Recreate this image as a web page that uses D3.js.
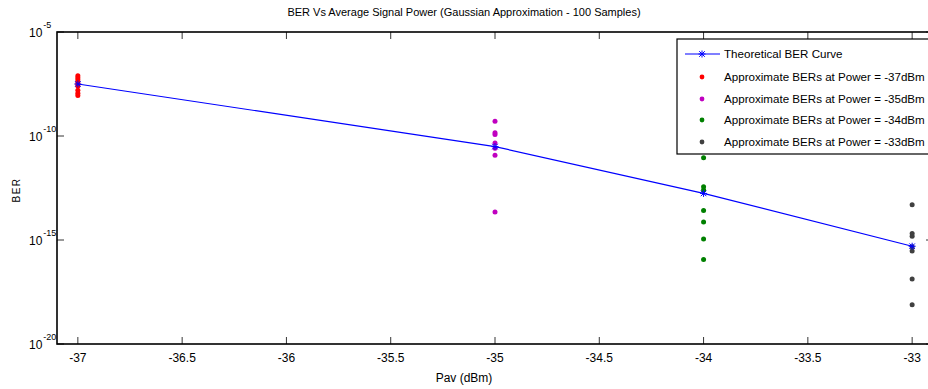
<!DOCTYPE html>
<html>
<head>
<meta charset="utf-8">
<script src="https://cdn.jsdelivr.net/npm/d3@7"></script>
<style>
  body { margin: 0; background: #fff; }
  svg { display: block; font-family: "Liberation Sans", Arial, sans-serif; }
</style>
</head>
<body>
<svg id="chart" width="928" height="389"></svg>
<script>
// data (log10 of BER)
const powers = [-37, -35, -34, -33];
const theoretical = [-7.5, -10.51, -12.76, -15.3];
const samples37 = [-7.1, -7.2, -7.3, -7.4, -7.5, -7.6, -7.8, -7.95, -8.05];
const samples35 = [-9.29, -9.84, -9.93, -10.34, -10.59, -10.93, -13.65];
const samples34 = [-11.04, -12.44, -12.6, -13.58, -14.14, -14.95, -15.94];
const samples33 = [-13.31, -14.69, -14.82, -15.33, -15.53, -16.87, -18.11];
const xTicks = [-37, -36.5, -36, -35.5, -35, -34.5, -34, -33.5, -33];
const yTicks = [-5, -10, -15, -20];
const legendLabels = [
  "Theoretical BER Curve",
  "Approximate BERs at Power = -37dBm",
  "Approximate BERs at Power = -35dBm",
  "Approximate BERs at Power = -34dBm",
  "Approximate BERs at Power = -33dBm"
];
const colors = ["#0000ff", "#ff0000", "#c000c0", "#008000", "#404040"];

const svg = d3.select("#chart");
const margin = { left: 57, right: 933, top: 32, bottom: 344 };

const x = d3.scaleLinear().domain([-37.1, -32.9]).range([margin.left, margin.right]);
const y = d3.scaleLinear().domain([-5, -20]).range([margin.top, margin.bottom]);

const groups = [
  { p: -37, vals: samples37, color: colors[1] },
  { p: -35, vals: samples35, color: colors[2] },
  { p: -34, vals: samples34, color: colors[3] },
  { p: -33, vals: samples33, color: colors[4] }
];

// star marker: times + plus
const starPath = d3.symbol().type(d3.symbolTimes).size(22)() + "M0,-3.5L0,3.5M-3.5,0L3.5,0";

// scatter samples
groups.forEach(g => {
  svg.append("g")
    .selectAll("circle")
    .data(g.vals)
    .enter().append("circle")
      .attr("cx", x(g.p))
      .attr("cy", d => y(d))
      .attr("r", 2.5)
      .attr("fill", g.color);
});

// theoretical curve
const line = d3.line()
  .x((d, i) => x(powers[i]))
  .y(d => y(d));

svg.append("path")
  .datum(theoretical)
  .attr("d", line)
  .attr("fill", "none")
  .attr("stroke", colors[0])
  .attr("stroke-width", 1.2);

svg.append("g")
  .selectAll("path")
  .data(theoretical)
  .enter().append("path")
    .attr("transform", (d, i) => `translate(${x(powers[i])},${y(d)})`)
    .attr("d", starPath)
    .attr("fill", "none")
    .attr("stroke", colors[0])
    .attr("stroke-width", 1);

// axes box
const x0 = margin.left, x1 = margin.right, y0 = margin.top, y1 = margin.bottom;
svg.append("rect")
  .attr("x", x0).attr("y", y0)
  .attr("width", x1 - x0).attr("height", y1 - y0)
  .attr("fill", "none").attr("stroke", "#000").attr("stroke-width", 1.6);

// x ticks (inward, bottom and top)
const xt = svg.append("g");
xTicks.forEach(t => {
  xt.append("line").attr("x1", x(t)).attr("x2", x(t)).attr("y1", y1).attr("y2", y1 - 7)
    .attr("stroke", "#000").attr("stroke-width", 0.8);
  xt.append("line").attr("x1", x(t)).attr("x2", x(t)).attr("y1", y0).attr("y2", y0 + 7)
    .attr("stroke", "#000").attr("stroke-width", 0.8);
  xt.append("text").attr("x", x(t)).attr("y", y1 + 18)
    .attr("text-anchor", "middle").attr("font-size", 12).text(t);
});

// y ticks (inward, left and right)
const yt = svg.append("g");
yTicks.forEach(t => {
  yt.append("line").attr("x1", x0).attr("x2", x0 + 7).attr("y1", y(t)).attr("y2", y(t))
    .attr("stroke", "#000").attr("stroke-width", 0.8);
  yt.append("line").attr("x1", x1).attr("x2", x1 - 7).attr("y1", y(t)).attr("y2", y(t))
    .attr("stroke", "#000").attr("stroke-width", 0.8);
  const lab = yt.append("text").attr("x", 29).attr("y", y(t) + 5).attr("font-size", 12);
  lab.append("tspan").text("10");
  lab.append("tspan").attr("dx", 1).attr("dy", -9).attr("font-size", 9).text(t);
});

// title and axis labels
svg.append("text").attr("x", 464).attr("y", 16).attr("text-anchor", "middle")
  .attr("font-size", 11).text("BER Vs Average Signal Power (Gaussian Approximation - 100 Samples)");
svg.append("text").attr("x", 464).attr("y", 382).attr("text-anchor", "middle")
  .attr("font-size", 12).text("Pav (dBm)");
svg.append("text").attr("transform", "translate(20,190) rotate(-90)").attr("text-anchor", "middle")
  .attr("font-size", 10).attr("letter-spacing", 1.5).text("BER");

// legend
const lg = svg.append("g");
lg.append("rect").attr("x", 677).attr("y", 39).attr("width", 270).attr("height", 115)
  .attr("fill", "#fff").attr("stroke", "#000").attr("stroke-width", 1.2);
const rowY = [54, 77, 99, 120, 142];
legendLabels.forEach((lab, i) => {
  if (i === 0) {
    lg.append("line").attr("x1", 685).attr("x2", 720).attr("y1", rowY[i]).attr("y2", rowY[i])
      .attr("stroke", colors[0]).attr("stroke-width", 1.2);
    lg.append("path").attr("transform", `translate(702,${rowY[i]})`)
      .attr("d", starPath)
      .attr("fill", "none").attr("stroke", colors[0]);
  } else {
    lg.append("circle").attr("cx", 702).attr("cy", rowY[i]).attr("r", 2.4).attr("fill", colors[i]);
  }
  lg.append("text").attr("x", 724).attr("y", rowY[i] + 4).attr("font-size", 11.6).text(lab);
});
</script>
</body>
</html>
